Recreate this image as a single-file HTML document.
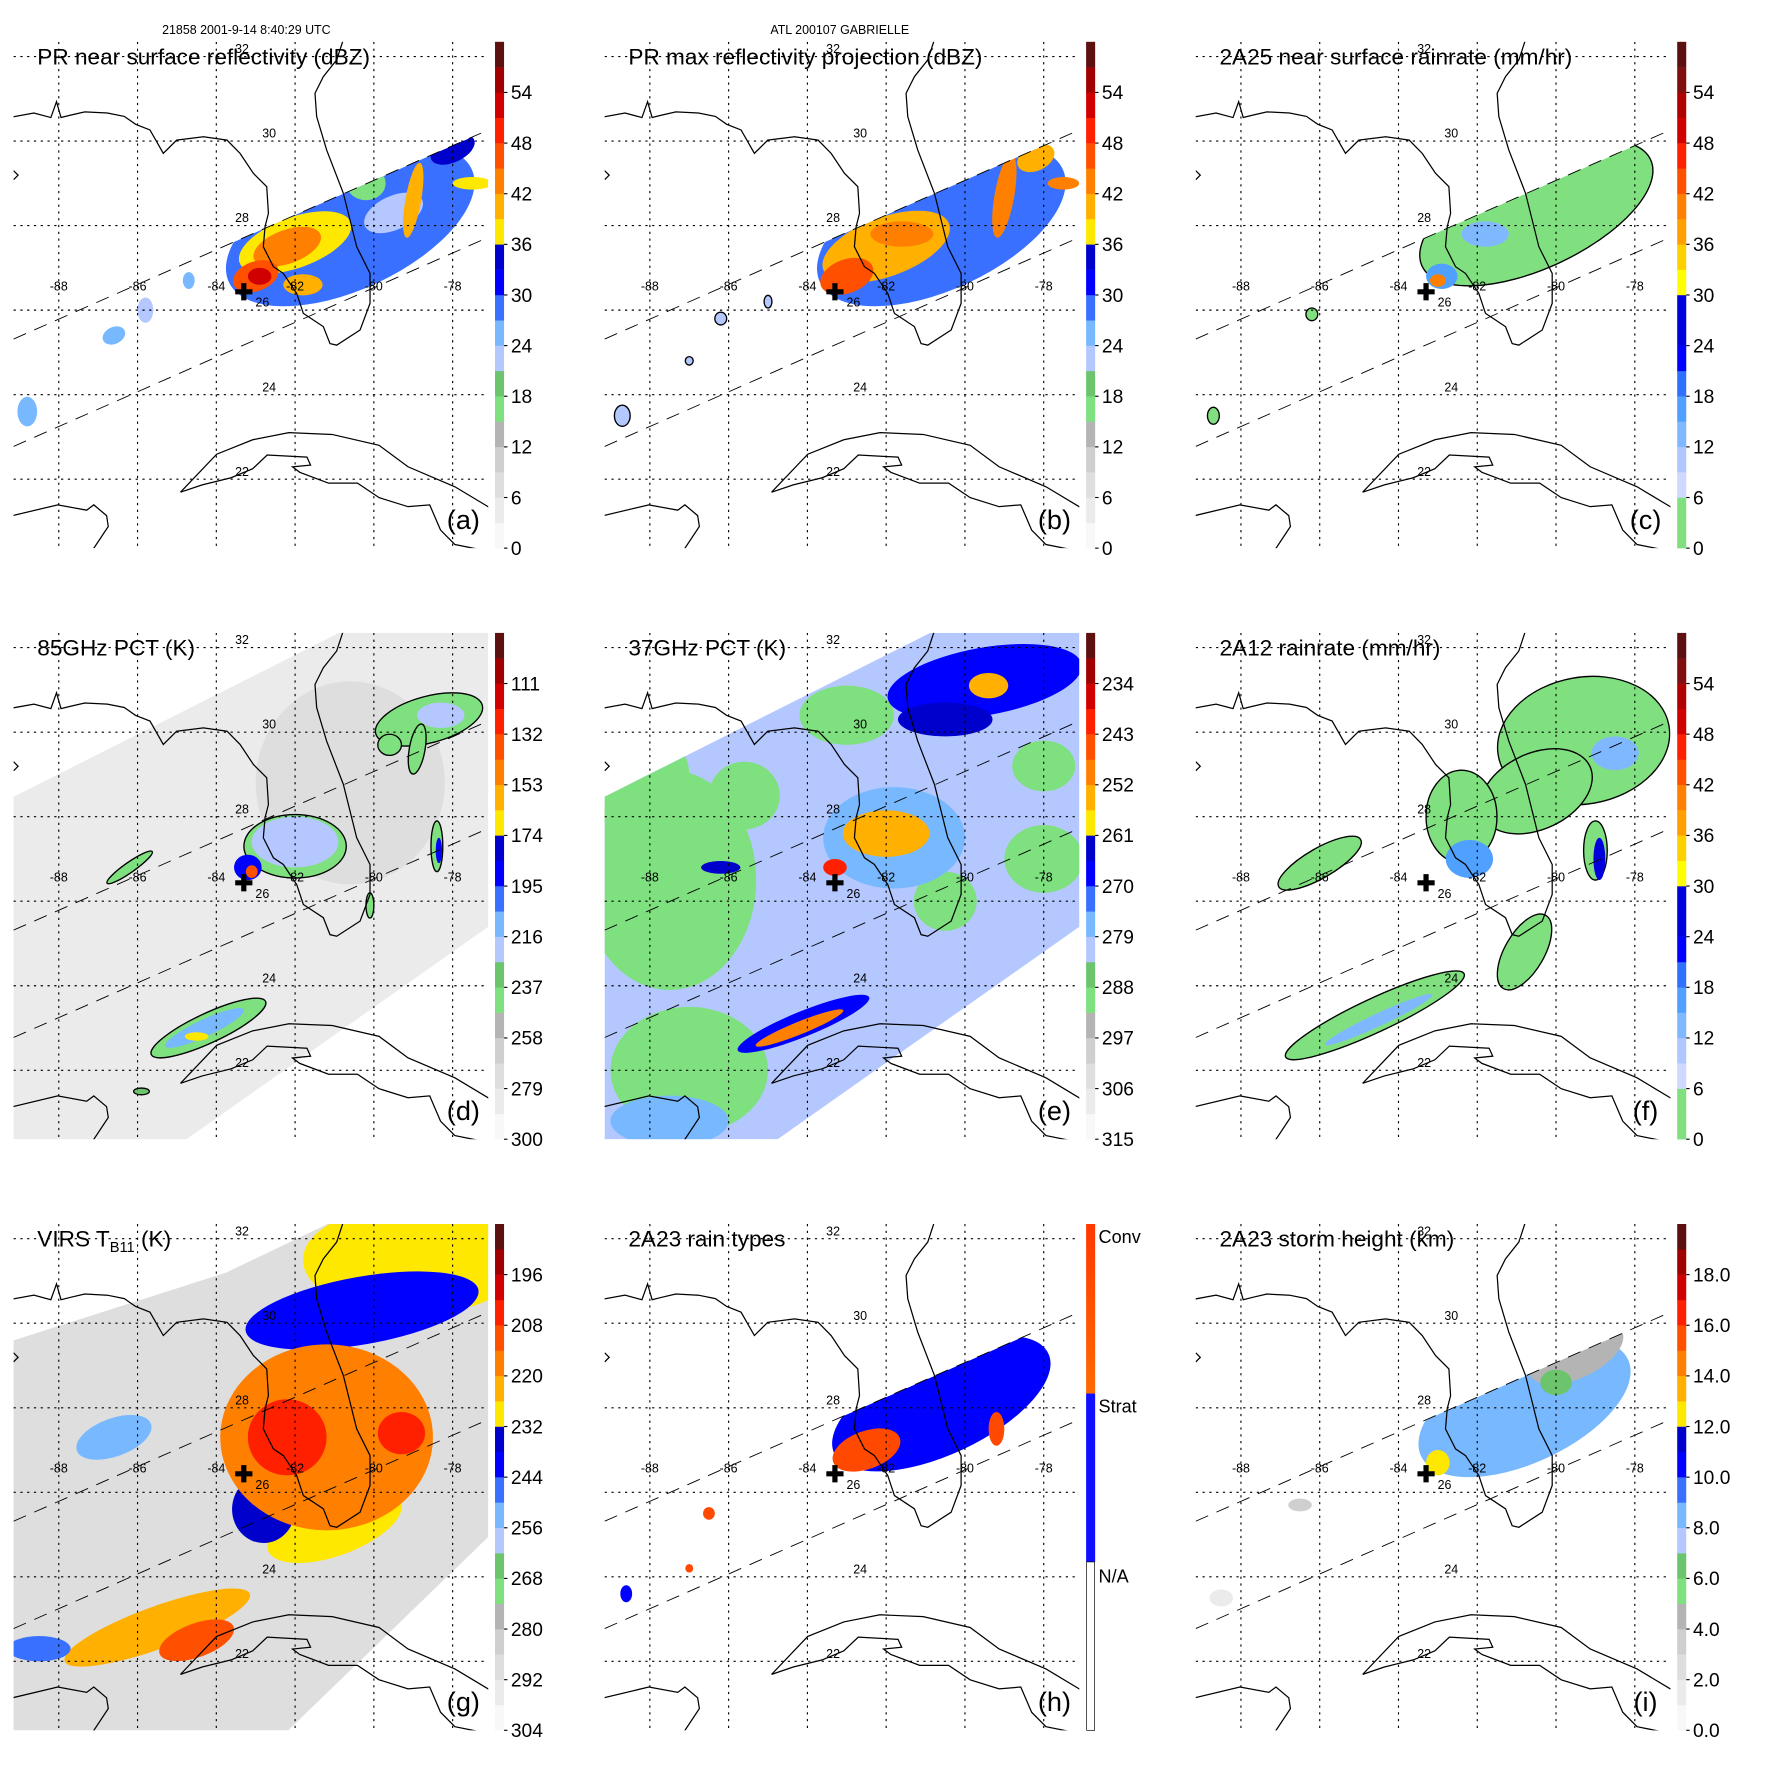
<!DOCTYPE html>
<html><head><meta charset="utf-8"><style>
html,body{margin:0;padding:0;background:#fff;}
svg{display:block;font-family:"Liberation Sans",Arial,sans-serif;}
</style></head><body>
<svg id="fig" width="1771" height="1771" viewBox="0 0 1567 1567" xmlns="http://www.w3.org/2000/svg">
<text x="218" y="30" font-size="11" text-anchor="middle">21858 2001-9-14 8:40:29 UTC</text>
<text x="743" y="30" font-size="11" text-anchor="middle">ATL 200107 GABRIELLE</text>
</svg>
<script>
// ---- colorbar tick labels ----
const ticksA = ['0','6','12','18','24','30','36','42','48','54'];
const ticksC = ['0','6','12','18','24','30','36','42','48','54'];
const ticksD = ['300','279','258','237','216','195','174','153','132','111'];
const ticksE = ['315','306','297','288','279','270','261','252','243','234'];
const ticksG = ['304','292','280','268','256','244','232','220','208','196'];
const ticksI = ['0.0','2.0','4.0','6.0','8.0','10.0','12.0','14.0','16.0','18.0'];
const catLabels = ['N/A','Strat','Conv'];
// ---- data blobs: [lon, lat, rxDeg, ryDeg, rotDeg, value, outlined] ----
const blobsA = [[-80.6,28.0,3.4,1.5,-25,28],[-79.5,28.3,0.8,0.4,-25,22],[-80.2,29.0,0.5,0.4,0,17],[-82.0,27.6,1.5,0.6,-20,38],[-82.2,27.5,0.9,0.4,-20,42],[-83.0,26.8,0.6,0.35,-20,47],[-82.9,26.8,0.3,0.2,0,52],[-81.8,26.6,0.5,0.25,0,40],[-79.0,28.6,0.2,0.9,10,40],[-78.0,29.8,0.6,0.3,-25,34],[-77.5,29.0,0.5,0.15,0,36],[-86.6,25.4,0.3,0.2,-25,24],[-85.8,26.0,0.2,0.3,0,22],[-88.8,23.6,0.25,0.35,0,25],[-84.7,26.7,0.15,0.2,0,24]];
const blobsB = [[-80.6,28.0,3.4,1.5,-25,29],[-82.0,27.5,1.7,0.7,-20,40],[-81.6,27.8,0.8,0.3,0,44],[-83.0,26.8,0.7,0.4,-20,46],[-79.0,28.7,0.25,1.0,10,42],[-78.2,29.6,0.5,0.3,-25,40],[-77.5,29.0,0.4,0.15,0,42],[-86.2,25.8,0.15,0.15,0,22,1],[-85.0,26.2,0.1,0.15,0,22,1],[-88.7,23.5,0.2,0.25,0,22,1],[-87.0,24.8,0.1,0.1,0,22,1]];
const blobsC = [[-80.5,28.3,3.2,1.3,-25,3,1],[-81.8,27.8,0.6,0.3,0,12],[-82.9,26.8,0.4,0.3,0,15],[-83.0,26.7,0.2,0.15,0,40],[-86.2,25.9,0.15,0.15,0,3,1],[-88.7,23.5,0.15,0.2,0,3,1]];
const blobsD = [[-80.6,28.8,2.4,2.4,0,272],[-82.0,27.3,1.3,0.75,0,240,1],[-82.0,27.4,1.1,0.6,0,222],[-83.2,26.8,0.35,0.3,0,190],[-83.1,26.7,0.15,0.15,0,140],[-78.6,30.3,1.4,0.55,-15,242,1],[-78.3,30.4,0.6,0.3,0,222],[-79.6,29.7,0.3,0.25,0,242,1],[-78.9,29.6,0.2,0.6,10,242,1],[-78.4,27.3,0.15,0.6,0,240,1],[-78.35,27.2,0.08,0.3,0,190],[-84.2,23.0,1.6,0.35,-25,240,1],[-84.3,23.0,1.1,0.2,-25,215],[-84.5,22.8,0.3,0.1,0,170],[-86.2,26.8,0.7,0.12,-35,240,1],[-80.1,25.9,0.1,0.3,0,240,1],[-85.9,21.5,0.2,0.08,0,230,1]];
const blobsE = [[-87.5,26.5,2.2,2.6,0,290],[-88.5,29.0,1.5,1.2,0,290],[-85.6,28.5,0.9,0.8,0,290],[-83.0,30.4,1.2,0.7,0,290],[-80.5,26.0,0.8,0.7,0,290],[-78.0,27.0,1.0,0.8,0,290],[-78.0,29.2,0.8,0.6,0,290],[-87.0,22.0,2.0,1.5,0,290],[-80.0,22.0,1.2,0.6,-20,290],[-79.5,31.2,2.5,0.8,-10,268],[-80.5,30.3,1.2,0.4,0,262],[-81.8,27.5,1.8,1.2,0,275],[-82.0,27.6,1.1,0.55,0,255],[-83.3,26.8,0.3,0.2,0,240],[-79.4,31.1,0.5,0.3,0,255],[-84.1,23.1,1.8,0.3,-22,266],[-84.2,23.0,1.2,0.15,-22,250],[-86.2,26.8,0.5,0.15,0,262],[-87.5,20.8,1.5,0.6,0,277]];
const blobsF = [[-79.3,29.8,2.2,1.5,-10,2,1],[-80.5,28.6,1.5,0.9,-25,2,1],[-82.4,28.0,0.9,1.1,0,2,1],[-82.2,27.0,0.6,0.45,0,15],[-86.0,26.9,1.2,0.35,-30,2,1],[-84.6,23.3,2.5,0.4,-25,2,1],[-84.5,23.2,1.5,0.15,-25,12],[-80.8,24.8,0.5,1.0,30,2,1],[-79.0,27.2,0.3,0.7,0,2,1],[-78.9,27.0,0.15,0.5,0,25],[-78.5,29.5,0.6,0.4,0,12]];
const blobsG = [[-79.0,31.5,2.8,1.3,0,232],[-80.3,30.3,3.0,0.8,-10,244],[-81.0,25.2,1.8,0.7,-20,232],[-82.8,25.6,0.8,0.8,0,235],[-81.2,27.3,2.7,2.2,0,220],[-82.2,27.3,1.0,0.9,0,208],[-79.3,27.4,0.6,0.5,0,208],[-86.6,27.3,1.0,0.45,-20,255],[-85.5,22.8,2.5,0.5,-20,225],[-84.5,22.5,1.0,0.4,-20,210],[-88.5,22.3,0.8,0.3,0,250]];
const blobsH = [[-80.6,28.1,3.0,1.2,-25,1],[-82.5,27.0,0.9,0.45,-20,2],[-79.2,27.5,0.2,0.4,0,2],[-86.5,25.5,0.15,0.15,0,2],[-88.6,23.6,0.15,0.2,0,1],[-87.0,24.2,0.1,0.1,0,2]];
const blobsI = [[-80.8,28.0,2.9,1.3,-25,8.5],[-79.5,29.3,1.3,0.6,-25,4.5],[-80.0,28.6,0.4,0.3,0,6.5],[-83.0,26.7,0.3,0.3,0,12.5],[-86.5,25.7,0.3,0.15,0,3],[-88.5,23.5,0.3,0.2,0,1.5]];

const svg = document.getElementById('fig');
const NS = 'http://www.w3.org/2000/svg';
function mk(tag, attrs, parent){const e=document.createElementNS(NS,tag);for(const k in attrs)e.setAttribute(k,attrs[k]);(parent||svg).appendChild(e);return e;}
const X = lon => 52 + (lon + 88) * 34.85;
const Y = lat => 50 + (32 - lat) * 37.4;
const PAL = ['#f8f8f8','#ebebeb','#dedede','#cfcfcf','#b4b4b4','#7ee07e','#6cc46c','#b4c8ff','#78b8ff','#3a70ff','#0000ff','#0000cc','#ffe800','#ffb000','#ff8000','#ff5000','#ff2000','#d00000','#a00000','#5c1010'];
const RAIN = ['#80e080','#80e080','#d0d8ff','#b0c8ff','#80b8ff','#50a0ff','#3070ff','#0000ff','#0000dd','#0000dd','#ffff00','#ffd000','#ffa000','#ff8000','#ff5000','#ff2000','#d00000','#b00000','#801010','#5c1010'];
const CAT = ['#ffffff','#0000ff','#ff4800'];
function colorFn(pal, lo, hi, inv){return v=>{let f=inv?(hi-v)/(hi-lo):(v-lo)/(hi-lo);let i=Math.floor(f*20);i=Math.max(0,Math.min(19,i));return pal[i];};}
// coastline geometry (panel-local pixels)
const coastMain = [[8,104],[30,100],[45,104],[50,90],[54,104],[62,102],[75,99],[95,100],[110,103],[120,110],[132.7,115],[144.5,135.7],[156.3,124],[180,121],[200.9,124],[212.4,135.7],[224.2,153.4],[236,165.2],[237.5,188.8],[234.5,200.6],[233,218.3],[241.9,236],[250.7,241.9],[262.5,259.6],[268.4,277.3],[286.1,289],[292,304],[297.9,305.4],[318.6,292],[327.4,268.4],[327.4,241.9],[315.6,218.3],[303.8,171],[289,132.7],[280.2,103.2],[278.7,82.6],[286.1,67.8],[297.9,53],[303.8,35]];
const cubaN = [[159.7,435.5],[191.7,401.9],[223.6,389.1],[255.6,382.8],[293.9,384.4],[335.4,394],[361,413],[402.5,430.7],[434.5,449.9]];
const cubaS = [[159.7,435.5],[178.9,429],[204.5,422.7],[223.6,414.7],[236.4,402.6],[271.6,404.5],[274.8,411.5],[258.8,413.1],[265.2,417.9],[290.7,427.5],[316.3,427.5],[335.4,440.3],[361,448.3],[380.2,446.7],[389.8,469],[402.5,481.8],[434.5,488.2]];
const yuc = [[11.2,456.2],[51.1,446.7],[76.7,451.4],[83,446.7],[94.3,456.2],[95.8,465.8],[76.7,494.6]];
function pathPx(pts){return pts.map((p,i)=>(i?'L':'M')+p[0]+','+p[1]).join('');}

const panels = [
 {id:'a',title:'PR near surface reflectivity (dBZ)',blobs:blobsA,ticks:ticksA,col:colorFn(PAL,0,60),pal:PAL,swath:'pr'},
 {id:'b',title:'PR max reflectivity projection (dBZ)',blobs:blobsB,ticks:ticksA,col:colorFn(PAL,0,60),pal:PAL,swath:'pr'},
 {id:'c',title:'2A25 near surface rainrate (mm/hr)',blobs:blobsC,ticks:ticksC,col:colorFn(RAIN,0,60),pal:RAIN,swath:'pr'},
 {id:'d',title:'85GHz PCT (K)',blobs:blobsD,ticks:ticksD,col:colorFn(PAL,90,300,true),pal:PAL,swath:'tmi',base:282},
 {id:'e',title:'37GHz PCT (K)',blobs:blobsE,ticks:ticksE,col:colorFn(PAL,225,315,true),pal:PAL,swath:'tmi',base:280},
 {id:'f',title:'2A12 rainrate (mm/hr)',blobs:blobsF,ticks:ticksC,col:colorFn(RAIN,0,60),pal:RAIN,swath:'tmi'},
 {id:'g',title:'VIRS',blobs:blobsG,ticks:ticksG,col:colorFn(PAL,184,304,true),pal:PAL,swath:'virs',base:288},
 {id:'h',title:'2A23 rain types',blobs:blobsH,ticks:null,col:v=>CAT[v],swath:'pr'},
 {id:'i',title:'2A23 storm height (km)',blobs:blobsI,ticks:ticksI,col:colorFn(PAL,0,20),pal:PAL,swath:'pr'}
];
const defs = mk('defs',{});
const swathPts = {
 pr:'12,300 432,115 432,210 12,395',
 tmi:'12,182 300,37 432,37 432,297 165,485 12,485',
 virs:'12,140 200,80 290,37 432,37 432,314 255,485 12,485'
};
panels.forEach((p,k)=>{
 const ox=(k%3)*523, oy=Math.floor(k/3)*523;
 const g = mk('g',{transform:`translate(${ox},${oy})`});
 
 
 const cm = mk('clipPath',{id:'map'+p.id},defs); mk('rect',{x:12,y:37,width:420,height:448},cm);
 const cs = mk('clipPath',{id:'sw'+p.id},defs); mk('polygon',{points:swathPts[p.swath]},cs);
 const map = mk('g',{'clip-path':`url(#map${p.id})`},g);
 
 
 const data = mk('g',{'clip-path':`url(#sw${p.id})`},map);
 if(p.base!==undefined){const r=mk('rect',{x:0,y:0,width:450,height:500,fill:p.col(p.base)},data);}
 p.blobs.forEach(b=>{
  const e=mk('ellipse',{cx:X(b[0]),cy:Y(b[1]),rx:b[2]*34.85,ry:b[3]*37.4,transform:`rotate(${b[4]} ${X(b[0])} ${Y(b[1])})`,fill:p.col(b[5]),stroke:b[6]?'#000':'none','stroke-width':1.2},data);
  
  
 });
 for(let lon=-88;lon<=-78;lon+=2){mk('line',{x1:X(lon),x2:X(lon),y1:37,y2:485,stroke:'#000','stroke-width':1,'stroke-dasharray':'2,4'},map);
  const t=mk('text',{x:X(lon),y:257,'font-size':11,'text-anchor':'middle'},map);t.textContent=lon;}
 const latX={32:208,30:232,28:208,26:226,24:232,22:208};
 for(let lat=22;lat<=32;lat+=2){mk('line',{x1:12,x2:432,y1:Y(lat),y2:Y(lat),stroke:'#000','stroke-width':1,'stroke-dasharray':'2,4'},map);
  const t=mk('text',{x:latX[lat],y:Y(lat)-3,'font-size':11},map);t.textContent=lat;}
 mk('line',{x1:12,y1:300,x2:432,y2:115,stroke:'#000','stroke-width':0.8,'stroke-dasharray':'12,8'},map);
 mk('line',{x1:12,y1:395,x2:432,y2:210,stroke:'#000','stroke-width':0.8,'stroke-dasharray':'12,8'},map);
 [coastMain,cubaN,cubaS,yuc].forEach(c=>{const pth=mk('path',{d:pathPx(c),fill:'none',stroke:'#000','stroke-width':1.1},map);});
 mk('path',{d:'M12,151 L16,155 L12,159',fill:'none',stroke:'#000','stroke-width':1.1},map);
 const cr=mk('text',{x:X(-83.3),y:Y(26.4)+6,'font-size':20,'font-weight':'bold','text-anchor':'middle'},map);cr.textContent='✚';
 const tt=mk('text',{x:33,y:57,'font-size':20},g);
 
 
 if(p.id==='g'){tt.innerHTML='VIRS T<tspan font-size="13" dy="5">B11</tspan><tspan dy="-5"> (K)</tspan>';} else tt.textContent=p.title;
 const pl=mk('text',{x:410,y:468,'font-size':24,'text-anchor':'middle'},g);pl.textContent='('+p.id+')';
 
 
 const cb=mk('g',{},g);
 
 
 if(p.ticks){
  for(let i=0;i<20;i++){mk('rect',{x:438,y:485-(i+1)*22.4,width:8,height:22.6,fill:p.pal[i]},cb);}
  p.ticks.forEach((t,i)=>{const y=485-i*44.8;mk('line',{x1:446,x2:449,y1:y,y2:y,stroke:'#000'},cb);
   const tx=mk('text',{x:452,y:y+6,'font-size':17},cb);tx.textContent=t;});
 } else {
  const gr=mk('linearGradient',{id:'convg',x1:0,y1:0,x2:0,y2:1},defs);
  mk('stop',{offset:0,'stop-color':'#ff3800'},gr);mk('stop',{offset:1,'stop-color':'#ff6a00'},gr);
  mk('rect',{x:438,y:37,width:8,height:150,fill:'url(#convg)'},cb);
  mk('rect',{x:438,y:187,width:8,height:149,fill:'#1010ff'},cb);
  mk('rect',{x:438.5,y:336,width:7,height:149,fill:'#fff',stroke:'#000','stroke-width':0.6},cb);
  catLabels.forEach((t,i)=>{const tx=mk('text',{x:449,y:[354,204,54][i],'font-size':16},cb);tx.textContent=t;});
 }
});
</script>
</body></html>
